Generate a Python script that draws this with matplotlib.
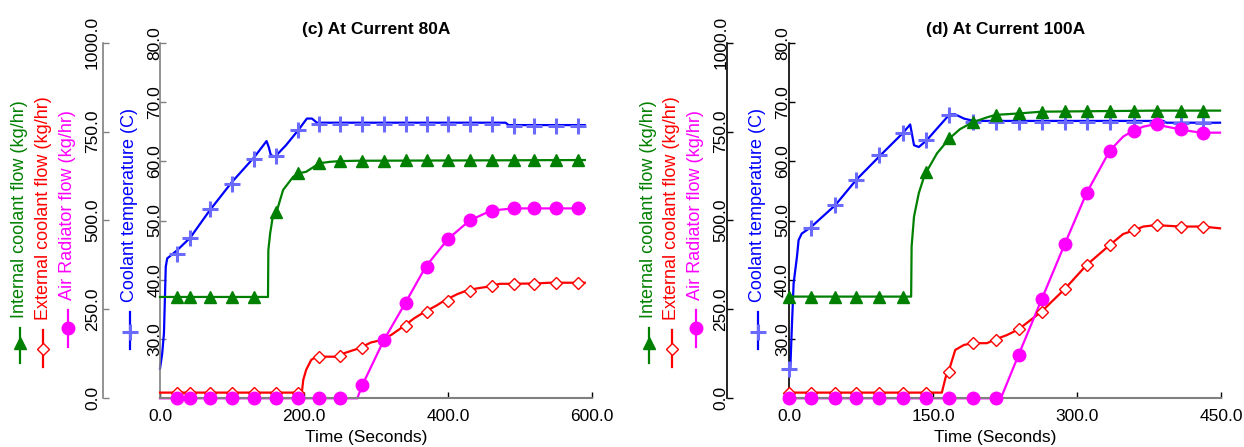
#!/usr/bin/env python3

import matplotlib
matplotlib.use('Agg')
import matplotlib.pyplot as plt

plt.rcParams['font.family'] = ['Liberation Sans', 'DejaVu Sans']


# ---------- (c) At Current 80A ----------
marks_80 = [23, 42, 69, 100, 131, 161, 192, 221, 250, 281, 311, 341, 371, 400, 431, 461, 491, 520, 550, 581]

temp_80_t = [0, 3, 5.5, 8, 10, 24, 42, 69, 100, 131, 148, 151, 154, 160, 175, 193, 204, 211, 218, 480, 484, 590]
temp_80_v = [25.0, 27.5, 31.0, 42.2, 43.6, 45.0, 47.1, 51.7, 56.5, 60.7, 63.4, 62.4, 61.0, 60.8, 62.7, 65.4,
             67.2, 67.2, 66.5, 66.5, 66.1, 66.1]
temp_80_m = [44.4, 47.0, 51.9, 56.1, 60.4, 60.8, 65.2, 66.3, 66.3, 66.3, 66.3, 66.3, 66.3, 66.3, 66.3, 66.3,
             65.9, 65.9, 65.9, 65.9]

int_80_t = [0, 150, 150.5, 153, 157, 162, 171, 185, 193, 203, 213, 221, 236, 250, 273, 590]
int_80_v = [285, 285, 417, 464, 515, 525, 586, 623, 633, 637, 650, 661, 665, 667, 668, 670]
int_80_m = [285, 285, 285, 285, 285, 525, 633, 661, 666, 668, 668, 670, 670, 670, 670, 670, 670, 670, 670, 670]

ext_80_t = [0, 197, 199, 203, 210, 217, 247, 256, 277, 293, 308, 321, 338, 353, 366, 385, 395, 413, 426, 440,
            456, 472, 487, 523, 541, 590]
ext_80_v = [16, 16, 52, 80, 108, 117, 117, 127, 141, 157, 164, 178, 202, 225, 241, 262, 275, 293, 303, 309,
            314, 322, 322, 323, 325, 325]
ext_80_m = [16, 16, 16, 16, 16, 16, 16, 117, 120, 141, 164, 202, 242, 275, 303, 315, 322, 322, 325, 325]

air_80_t = [0, 274, 281, 311, 341, 369, 400, 430, 460, 491, 590]
air_80_v = [0, 0, 37, 164, 269, 370, 448, 500, 528, 534, 534]
air_80_m = [0, 0, 0, 0, 0, 0, 0, 0, 0, 37, 164, 269, 370, 448, 500, 528, 534, 534, 534, 534]


# ---------- (d) At Current 100A ----------
marks_100 = [0, 23, 48, 70, 94, 118, 143, 166, 191, 215, 239, 263, 287, 310, 334, 359, 383, 408, 431]

temp_100_t = [0, 1, 2.8, 4.5, 8, 9.7, 13, 22, 48, 70, 95, 118, 126, 130, 135, 143, 167, 173, 182, 192,
              390, 393, 449]
temp_100_v = [25.3, 24.8, 32.6, 39.4, 43.9, 46.7, 47.8, 48.8, 52.6, 56.9, 61.0, 64.7, 66.2, 62.7, 62.4,
              63.5, 67.9, 67.9, 67.2, 66.8, 66.8, 66.5, 66.5]
temp_100_m = [24.9, 48.7, 52.6, 56.9, 61.0, 64.7, 63.5, 67.8, 66.6, 66.6, 66.6, 66.6, 66.6, 66.6, 66.6,
              66.6, 66.6, 66.4, 66.4]

int_100_t = [0, 127, 127.5, 130, 135, 140, 143, 154, 167, 178, 191, 206, 215, 239, 263, 383, 449]
int_100_v = [286, 286, 427, 511, 577, 619, 637, 689, 731, 757, 776, 790, 797, 801, 806, 809, 809]
int_100_m = [286, 286, 286, 286, 286, 286, 637, 731, 777, 797, 801, 806, 807, 807, 808, 808, 809, 809, 809]

ext_100_t = [0, 159, 164, 166, 173, 182, 191, 206, 215, 227, 239, 263, 287, 310, 334, 348, 359, 369, 382,
             408, 431, 449]
ext_100_v = [16, 16, 70, 75, 136, 150, 155, 155, 166, 178, 194, 244, 307, 375, 431, 462, 472, 483, 487,
             483, 483, 478]
ext_100_m = [16, 16, 16, 16, 16, 16, 16, 75, 155, 163, 194, 244, 307, 375, 431, 472, 487, 483, 483]

air_100_t = [0, 220.5, 239, 263, 287, 310, 334, 348, 359, 369, 382, 393, 408, 421, 431, 449]
air_100_v = [0, 0, 122, 278, 433, 578, 696, 736, 753, 764, 771, 764, 756, 750, 747, 747]
air_100_m = [0, 0, 0, 0, 0, 0, 0, 0, 0, 0, 122, 278, 433, 578, 696, 753, 771, 756, 747]

xticks_80 = [0, 200, 400, 600]
xticks_100 = [0, 150, 300, 450]
temp_ticks = [30, 40, 50, 60, 70, 80]
flow_ticks = [0, 250, 500, 750, 1000]

GREEN = '#008000'
RED = '#ff0000'
MAGENTA = '#ff00ff'
BLUE = '#0000ff'
LIGHTBLUE = '#6a6aff'
GRAY = '#808080'

W, H = 1244, 447


def px_rect(x0, x1, y_top, y_bot):
    return [x0 / W, 1 - y_bot / H, (x1 - x0) / W, (y_bot - y_top) / H]


def draw_panel(fig, rect, title, xmax, xticks, marks, temp, internal, external, air,
               spine_col, flow_out, temp_pad, flow_pad):
    ax = fig.add_axes(rect)
    axf = ax.twinx()
    axf.yaxis.tick_left()
    axf.yaxis.set_label_position('left')
    axf.spines['left'].set_position(('outward', flow_out))

    for s in ['top', 'right']:
        ax.spines[s].set_visible(False)
        axf.spines[s].set_visible(False)
    ax.spines['bottom'].set_visible(False)
    axf.spines['bottom'].set_color(GRAY)
    axf.spines['bottom'].set_linewidth(1.5)
    ax.spines['left'].set_color(spine_col)
    axf.spines['left'].set_color(spine_col)
    ax.spines['left'].set_linewidth(1.2)
    axf.spines['left'].set_linewidth(1.2)

    # temperature (bottom layer)
    t_t, t_v, t_m = temp
    ax.plot(t_t, t_v, color=BLUE, lw=1.6, clip_on=False, zorder=2)
    ax.plot(marks, t_m, ls='none', marker='+', ms=11, mew=2.2, color=LIGHTBLUE, clip_on=False, zorder=3)

    # flows
    for (lt, lv, lm), col, kw in [
            (internal, GREEN, dict(marker='^', ms=8, mfc=GREEN, mec=GREEN)),
            (external, RED, dict(marker='D', ms=6.5, mfc='white', mec=RED, mew=1)),
            (air, MAGENTA, dict(marker='o', ms=9, mfc=MAGENTA, mec=MAGENTA))]:
        axf.plot(lt, lv, color=col, lw=1.6, clip_on=False, zorder=2)
        axf.plot(marks, lm, ls='none', clip_on=False, zorder=3, **kw)

    ax.set_xlim(0, xmax)
    ax.set_ylim(20, 80)
    axf.set_ylim(0, 1000)

    ax.set_xticks(xticks, labels=['%.1f' % v for v in xticks])
    ax.set_yticks(temp_ticks, labels=['%.1f' % v for v in temp_ticks], rotation=90, va='center')
    axf.set_yticks(flow_ticks, labels=['%.1f' % v for v in flow_ticks], rotation=90, va='center')

    ax.tick_params(axis='x', direction='in', length=4.5, width=1, pad=7.5, labelsize=12.5, colors='black')
    ax.tick_params(axis='y', direction='in', length=4.5, width=1, pad=temp_pad, labelsize=12.5,
                   color=spine_col)
    axf.tick_params(axis='y', direction='in', length=4.5, width=1, pad=flow_pad, labelsize=12.5,
                    color=spine_col)

    ax.set_xlabel('Time (Seconds)', fontsize=12.5, labelpad=4.5, x=0.478)
    ax.set_title(title, fontsize=12.5, fontweight='bold', pad=6)
    return ax


def draw_keys(ov, dx):
    # rotated axis titles with their key glyphs, left of each panel
    keys = [
        (20, 318, 328, 363, 343, 'Internal coolant flow (kg/hr)', GREEN,
         dict(marker='^', ms=8, mfc=GREEN, mec=GREEN)),
        (43.3, 320, 330, 367, 349, 'External coolant flow (kg/hr)', RED,
         dict(marker='D', ms=6.5, mfc='white', mec=RED, mew=1)),
        (67.5, 300, 310, 347, 328, 'Air Radiator flow (kg/hr)', MAGENTA,
         dict(marker='o', ms=9, mfc=MAGENTA, mec=MAGENTA)),
        (129.5, 302, 312, 349, 332, 'Coolant temperature (C)', BLUE,
         dict(marker='+', ms=11, mew=2.2, mec=LIGHTBLUE)),
    ]
    for x, ty, y0, y1, ym, label, col, kw in keys:
        ov.text(x + dx, ty, label, rotation=90, ha='center', va='bottom', color=col, fontsize=13)
        ov.plot([x + dx, x + dx], [y0, y1], color=col, lw=1.6)
        ov.plot([x + dx], [ym], ls='none', **kw)


fig = plt.figure(figsize=(W / 100, H / 100), dpi=100)

draw_panel(fig, px_rect(160, 592, 42.7, 398.3), '(c) At Current 80A', 600, xticks_80, marks_80,
           (temp_80_t, temp_80_v, temp_80_m), (int_80_t, int_80_v, int_80_m),
           (ext_80_t, ext_80_v, ext_80_m), (air_80_t, air_80_v, air_80_m),
           GRAY, 56.7 * 0.72, -1.8, 2.4)
draw_panel(fig, px_rect(789.3, 1221, 42.7, 398.3), '(d) At Current 100A', 450, xticks_100, marks_100,
           (temp_100_t, temp_100_v, temp_100_m), (int_100_t, int_100_v, int_100_m),
           (ext_100_t, ext_100_v, ext_100_m), (air_100_t, air_100_v, air_100_m),
           'black', 62.6 * 0.72, -0.5, -1.3)

ov = fig.add_axes([0, 0, 1, 1], zorder=-1)
ov.set_xlim(0, W)
ov.set_ylim(H, 0)
ov.axis('off')
draw_keys(ov, 0)
draw_keys(ov, 628.5)

fig.savefig('out.png', dpi=100)
